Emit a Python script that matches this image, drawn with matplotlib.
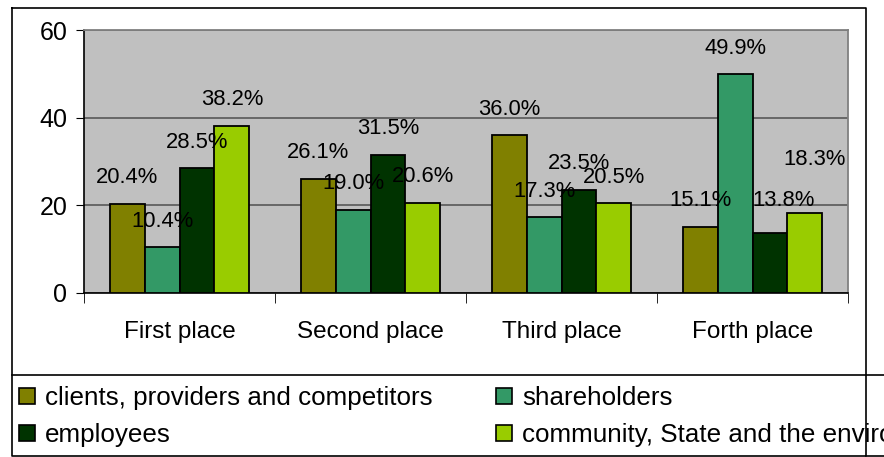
import numpy as np
import matplotlib.pyplot as plt
from matplotlib.patches import Patch
from matplotlib.lines import Line2D

plt.rcParams['font.family'] = ['Liberation Sans', 'DejaVu Sans']

places = ["First place", "Second place", "Third place", "Forth place"]
series = ["clients, providers and competitors", "shareholders", "employees",
          "community, State and the environment"]
colors = ["#808000", "#339966", "#003300", "#99CC00"]

clients = [20.4, 26.1, 36.0, 15.1]
shareholders = [10.4, 19.0, 17.3, 49.9]
employees = [28.5, 31.5, 23.5, 13.8]
community = [38.2, 20.6, 20.5, 18.3]
values = [clients, shareholders, employees, community]

W, H = 884, 457
fig = plt.figure(figsize=(W / 100, H / 100), dpi=100)

def px(x0, y0, x1, y1):
    # pixel box (top-left origin) -> figure fraction rect
    return [x0 / W, 1 - y1 / H, (x1 - x0) / W, (y1 - y0) / H]

ax = fig.add_axes(px(84, 30, 848, 293))
ax.set_facecolor("#C0C0C0")

x = np.arange(len(places))
bw = 0.183
for i, (vals, col) in enumerate(zip(values, colors)):
    xs = x + (i - 1.5) * bw
    ax.bar(xs, vals, width=bw, color=col, edgecolor="black", linewidth=1.3, zorder=3)

# value labels; a couple are nudged so they don't collide
nudge = {(2, 3): (14, 6), (3, 3): (10, 27)}
for i, vals in enumerate(values):
    for j, v in enumerate(vals):
        dx, dy = nudge.get((i, j), (0, 0))
        ax.annotate(f"{v:.1f}%", (x[j] + (i - 1.5) * bw, v),
                    xytext=(dx, 26 + dy), textcoords="offset pixels",
                    ha="center", va="center", fontsize=15.8, zorder=5)

ax.set_xlim(-0.5, 3.5)
ax.set_ylim(0, 60)
ax.set_yticks([0, 20, 40, 60])
ax.yaxis.grid(True, color="#606060", linewidth=1.3, zorder=1)
ax.tick_params(axis="y", labelsize=18, length=6, direction="out", pad=6)

ax.set_xticks(x)
ax.set_xticklabels(places, fontsize=17.5)
ax.set_xticks(np.arange(-0.5, 4.0, 1.0), minor=True)
ax.tick_params(axis="x", which="major", length=0, pad=20)
ax.tick_params(axis="x", which="minor", length=7, direction="out")

for s in ["top", "right"]:
    ax.spines[s].set_color("#808080")
    ax.spines[s].set_linewidth(1.3)
for s in ["left", "bottom"]:
    ax.spines[s].set_color("black")
    ax.spines[s].set_linewidth(1.2)

# outer frame and legend box
def fline(xs, ys):
    fig.add_artist(Line2D([v / W for v in xs], [1 - v / H for v in ys],
                          color="black", linewidth=1.2, transform=fig.transFigure))

fline([12, 866, 866, 12, 12], [8, 8, 456, 456, 8])
fline([12, W], [375, 375])
fline([866, W], [456, 456])

handles = [Patch(facecolor=c, edgecolor="black", linewidth=1.2) for c in colors]
order = [0, 2, 1, 3]
fig.legend([handles[k] for k in order], [series[k] for k in order],
           ncol=2, loc="upper left", bbox_to_anchor=(14 / W, 1 - 381 / H),
           frameon=False, fontsize=18.7, handlelength=0.6, handleheight=0.6,
           handletextpad=0.4, columnspacing=2.45, labelspacing=0.5,
           borderaxespad=0, borderpad=0.2)

fig.savefig("out.png", dpi=100)
